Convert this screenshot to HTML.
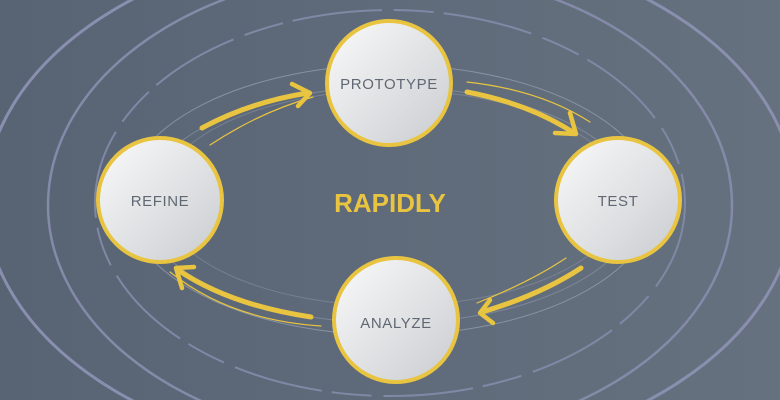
<!DOCTYPE html>
<html><head><meta charset="utf-8"><style>
html,body{margin:0;padding:0;width:780px;height:400px;overflow:hidden;}
body{background:linear-gradient(90deg,#586474 0%,#5f6b7a 50%,#66717f 100%);}
svg{display:block;overflow:hidden}
text{font-family:"Liberation Sans",sans-serif;}
</style></head><body>
<svg width="780" height="400" viewBox="0 0 780 400">
<defs>
<linearGradient id="g" x1="0" y1="0" x2="1" y2="1">
<stop offset="0" stop-color="#fafafa"/><stop offset="1" stop-color="#c9ccd0"/>
</linearGradient>
<clipPath id="c"><rect x="0" y="0" width="780" height="400"/></clipPath>
</defs>
<g fill="none" clip-path="url(#c)">
<ellipse cx="390" cy="200" rx="405" ry="260" stroke="#8a8fb0" stroke-width="3"/>
<ellipse cx="390" cy="205" rx="342" ry="235" stroke="#848aa8" stroke-width="2.5"/>
<ellipse cx="390" cy="203" rx="295" ry="193" stroke="#8088a6" stroke-width="2" stroke-dasharray="90 12 40 10"/>
<ellipse cx="390" cy="200" rx="265" ry="135" stroke="#9aa2b4" stroke-width="1" opacity="0.7"/>
<ellipse cx="390" cy="205" rx="248" ry="118" stroke="#9aa2b4" stroke-width="1" opacity="0.5"/>
<ellipse cx="392" cy="198" rx="232" ry="108" stroke="#9aa2b4" stroke-width="1" opacity="0.4"/>
</g>
<g fill="none" stroke="#e8c440" stroke-linecap="round" stroke-linejoin="round">
<path d="M202 128 Q250 102 308 93" stroke-width="5"/>
<path d="M292 84 L310 93 L298 106" stroke-width="4.5"/>
<path d="M210 145 Q260 112 313 97" stroke-width="1.2"/>
<path d="M467 92 Q530 104 574 133" stroke-width="5"/>
<path d="M555 133 L576 134 L570 113" stroke-width="4.5"/>
<path d="M467 82 Q540 90 590 122" stroke-width="1.2"/>
<path d="M581 268 Q540 295 482 312" stroke-width="5"/>
<path d="M490 300 L480 313 L493 323" stroke-width="4.5"/>
<path d="M566 258 Q530 282 477 303" stroke-width="1.2"/>
<path d="M311 317 Q230 305 178 270" stroke-width="5"/>
<path d="M194 267 L176 268 L182 288" stroke-width="4.5"/>
<path d="M321 326 Q230 320 170 272" stroke-width="1.2"/>
</g>
<g stroke="#e8c440" stroke-width="4" fill="url(#g)">
<circle cx="389" cy="83" r="62"/>
<circle cx="618" cy="200" r="62"/>
<circle cx="160" cy="200" r="62"/>
<circle cx="396" cy="320" r="62"/>
</g>
<g fill="#606874" font-size="15" text-anchor="middle" letter-spacing="0.6">
<text x="389" y="89">PROTOTYPE</text>
<text x="618" y="206">TEST</text>
<text x="160" y="206">REFINE</text>
<text x="396" y="328">ANALYZE</text>
</g>
<text x="390" y="212" text-anchor="middle" fill="#e8c440" font-size="26" font-weight="bold" style="font-family:'Liberation Sans Narrow','Liberation Sans',sans-serif">RAPIDLY</text>
</svg>
</body></html>
